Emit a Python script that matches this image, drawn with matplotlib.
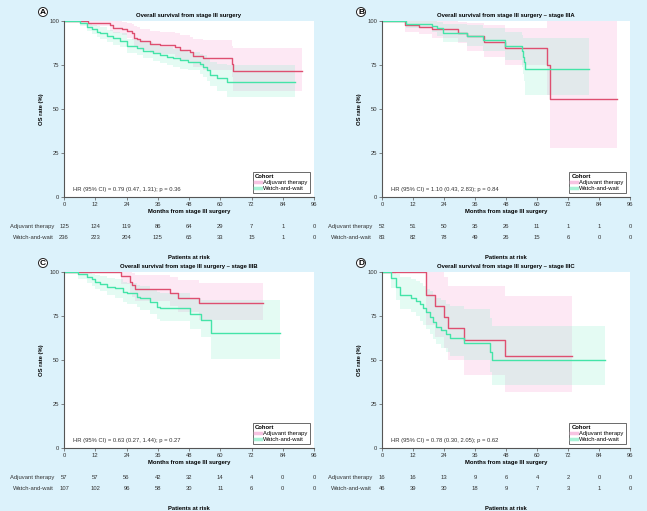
import matplotlib
matplotlib.use("Agg")
import matplotlib.pyplot as plt
import matplotlib.transforms as mtransforms
from matplotlib.lines import Line2D

plt.rcParams['font.family'] = ['Liberation Sans', 'DejaVu Sans']

# ---- risk table data ----
months = [0, 12, 24, 36, 48, 60, 72, 84, 96]
groups = ['Adjuvant therapy', 'Watch-and-wait']

a_risk_adj = [125, 124, 119, 86, 64, 29, 7, 1, 0]
a_risk_ww = [236, 223, 204, 125, 65, 33, 15, 1, 0]
b_risk_adj = [52, 51, 50, 35, 26, 11, 1, 1, 0]
b_risk_ww = [83, 82, 78, 49, 26, 15, 6, 0, 0]
c_risk_adj = [57, 57, 56, 42, 32, 14, 4, 0, 0]
c_risk_ww = [107, 102, 96, 58, 30, 11, 6, 0, 0]
d_risk_adj = [16, 16, 13, 9, 6, 4, 2, 0, 0]
d_risk_ww = [46, 39, 30, 18, 9, 7, 3, 1, 0]

# ---- survival curves (step times, OS %, CI lower, CI upper, last follow-up) ----
a_adj_t = [0, 9.3, 17.7, 18.9, 22.1, 24.1, 26, 26.9, 28.2, 29.2, 33, 36.9, 42.6, 44.5, 48.4, 49.7, 53.5, 64.4, 65]
a_adj_s = [100, 99, 97.7, 96.2, 95.5, 94.3, 93, 90.6, 89.7, 88.4, 86.9, 86.4, 85, 83.7, 82.2, 80.3, 78.8, 75.4, 71.5]
a_adj_lo = [100, 97, 94.5, 93, 92, 90.5, 89, 86, 85, 83.5, 82, 81, 79.5, 78, 76, 74, 72, 68, 60.5]
a_adj_hi = [100, 100, 100, 100, 99.5, 99, 98.5, 97, 96.5, 95.5, 94.5, 94, 93, 92, 91, 90, 89, 86, 84.5]
a_adj_end = 91.3

a_ww_t = [0, 6.1, 8.7, 10.6, 12.5, 13.8, 16.4, 18.9, 21.5, 24.1, 27.9, 30.5, 34.3, 36.9, 39.4, 42, 44.5, 47.7, 52.2, 53.5, 54.8, 56.1, 58.6, 62.5]
a_ww_s = [100, 98.7, 96.8, 95.3, 93.9, 93, 91.5, 90.2, 88.8, 85.8, 84.5, 83.1, 82, 80.7, 79.7, 78.8, 77.8, 76.9, 75.6, 74, 72.2, 69.3, 67.4, 65.2]
a_ww_lo = [100, 97, 94.5, 92.5, 91, 90, 88, 86.5, 85, 82, 80.5, 79, 77.5, 76, 75, 74, 73, 72, 70, 68, 66, 63, 60, 57]
a_ww_hi = [100, 100, 99, 98, 97, 96.5, 95, 94, 93, 90, 89, 88, 87, 85.5, 85, 84, 83, 82.5, 81.5, 80.5, 79, 76.5, 75.5, 75]
a_ww_end = 88.7

b_adj_t = [0, 8.9, 14.5, 19.2, 29.5, 32.8, 39.5, 47.5, 63.7, 65]
b_adj_s = [100, 97.5, 96.5, 95.5, 93.2, 91.5, 88.3, 84.8, 75, 55.5]
b_adj_lo = [100, 94, 92.5, 90.5, 87.5, 83, 79.5, 75, 58, 28]
b_adj_hi = [100, 100, 100, 100, 99.5, 99, 98, 96, 100, 100]
b_adj_end = 91.1

b_ww_t = [0, 9.4, 19.2, 21.2, 23.7, 32.8, 39.2, 47.6, 54.1, 54.7, 55.1, 55.4]
b_ww_s = [100, 98.5, 97.3, 95.8, 93, 91.5, 89.2, 85.7, 83, 79.5, 76.5, 72.5]
b_ww_lo = [100, 96, 93.5, 91.5, 88, 86, 83, 78, 74, 70, 66, 58]
b_ww_hi = [100, 100, 100, 99.5, 98.5, 97.5, 96, 93.5, 92, 90.5, 90.5, 90.5]
b_ww_end = 80.3

c_adj_t = [0, 22, 25.3, 26, 27.3, 40.7, 43.9, 52]
c_adj_s = [100, 97.5, 94.5, 92.6, 90.2, 87.9, 85.3, 82.2]
c_adj_lo = [100, 93, 88, 86, 83.5, 80.5, 77.5, 72.5]
c_adj_hi = [100, 100, 100, 99.5, 98.5, 97, 95.5, 94]
c_adj_end = 76.5

c_ww_t = [0, 5.5, 8.7, 10.6, 11.9, 13.8, 16.4, 19.6, 22.8, 24.1, 27.9, 29.2, 33, 35.6, 36.9, 48.2, 52.7, 56.5]
c_ww_s = [100, 98.7, 97.3, 96, 94.5, 93, 91.7, 90.7, 88.8, 87.9, 86, 85, 82.8, 80.3, 79.4, 75.9, 72.7, 65.2]
c_ww_lo = [100, 96, 94, 92, 90.5, 89, 87, 85.5, 83, 82, 80, 78.5, 76, 73.5, 72, 67.5, 63, 50.5]
c_ww_hi = [100, 100, 99.5, 99, 98.5, 97.5, 96.5, 96, 94.5, 94, 92.5, 92, 90.5, 88.5, 88, 85.5, 84, 84]
c_ww_end = 83

d_adj_t = [0, 17.2, 20.4, 24, 25.5, 31.7, 47.5]
d_adj_s = [100, 86.9, 80.9, 74.6, 68.4, 61.4, 52.5]
d_adj_lo = [100, 70, 63, 57, 50, 41.5, 32]
d_adj_hi = [100, 100, 100, 97, 92, 92, 86.5]
d_adj_end = 73.7

d_ww_t = [0, 3.6, 5.5, 6.8, 11.4, 13.3, 14.6, 15.9, 17.2, 18.5, 19.7, 21, 23, 24.9, 26.2, 31.7, 41.7, 42.7]
d_ww_s = [100, 96.8, 91.7, 87, 85, 83.5, 81.6, 79.4, 77.1, 74.6, 71.8, 68.9, 67, 64.6, 62.3, 59.5, 54.4, 50]
d_ww_lo = [100, 91, 84, 79, 77, 75, 72, 70, 67.5, 65, 62, 59, 57, 54.5, 52, 50, 43, 36]
d_ww_hi = [100, 100, 99, 97, 96, 95, 93.5, 92, 90.5, 89, 87, 85, 84, 82, 80.5, 79, 74, 69.5]
d_ww_end = 86.2

titles = ['Overall survival from stage III surgery',
          'Overall survival from stage III surgery \u2013 stage IIIA',
          'Overall survival from stage III surgery \u2013 stage IIIB',
          'Overall survival from stage III surgery \u2013 stage IIIC']
hr_texts = ['HR (95% CI) = 0.79 (0.47, 1.31); p = 0.36',
            'HR (95% CI) = 1.10 (0.43, 2.83); p = 0.84',
            'HR (95% CI) = 0.63 (0.27, 1.44); p = 0.27',
            'HR (95% CI) = 0.78 (0.30, 2.05); p = 0.62']
letters = ['A', 'B', 'C', 'D']

bg = '#dcf2fb'
red = '#de4f70'
green = '#44e4a8'
pink_fill = '#f9a6d6'
green_fill = '#86f0cb'

panels = [
    (a_adj_t, a_adj_s, a_adj_lo, a_adj_hi, a_adj_end, a_ww_t, a_ww_s, a_ww_lo, a_ww_hi, a_ww_end, a_risk_adj, a_risk_ww),
    (b_adj_t, b_adj_s, b_adj_lo, b_adj_hi, b_adj_end, b_ww_t, b_ww_s, b_ww_lo, b_ww_hi, b_ww_end, b_risk_adj, b_risk_ww),
    (c_adj_t, c_adj_s, c_adj_lo, c_adj_hi, c_adj_end, c_ww_t, c_ww_s, c_ww_lo, c_ww_hi, c_ww_end, c_risk_adj, c_risk_ww),
    (d_adj_t, d_adj_s, d_adj_lo, d_adj_hi, d_adj_end, d_ww_t, d_ww_s, d_ww_lo, d_ww_hi, d_ww_end, d_risk_adj, d_risk_ww),
]

fig = plt.figure(figsize=(6.47, 5.11), dpi=100, facecolor=bg)
W, H = 647.0, 511.0
# axes boxes in pixels: left, top, right, bottom
boxes = [(64, 21, 314, 197), (382, 21, 630, 197), (64, 272, 314, 448), (382, 272, 630, 448)]

fs = 4.2


def draw_curve(ax, t, s, lo, hi, end, line_col, fill_col, fill_alpha):
    tt = list(t) + [end]
    ss = list(s) + [s[-1]]
    ll = list(lo) + [lo[-1]]
    hh = list(hi) + [hi[-1]]
    ax.fill_between(tt, ll, hh, step='post', color=fill_col, alpha=fill_alpha, linewidth=0)
    ax.step(tt, ss, where='post', color=line_col, linewidth=1.0)


for i, p in enumerate(panels):
    l, t, r, b = boxes[i]
    ax = fig.add_axes([l / W, 1 - b / H, (r - l) / W, (b - t) / H])
    ax.set_facecolor('white')
    draw_curve(ax, p[0], p[1], p[2], p[3], p[4], red, pink_fill, 0.25)
    draw_curve(ax, p[5], p[6], p[7], p[8], p[9], green, green_fill, 0.22)

    ax.set_xlim(0, 96)
    ax.set_ylim(0, 100)
    ax.set_xticks(months)
    ax.set_yticks([0, 25, 50, 75, 100])
    for side in ['top', 'right']:
        ax.spines[side].set_visible(False)
    for side in ['left', 'bottom']:
        ax.spines[side].set_color('#555555')
        ax.spines[side].set_linewidth(0.8)
    ax.tick_params(labelsize=fs, length=2, width=0.5, color='#555555', labelcolor='#333333', pad=1.5)
    ax.set_title(titles[i], fontsize=fs, fontweight='bold', pad=3)
    ax.set_ylabel('OS rate (%)', fontsize=fs, fontweight='bold', labelpad=4)
    ax.set_xlabel('Months from stage III surgery', fontsize=fs, fontweight='bold', labelpad=1.5)

    ax.text(0.036, 0.045, hr_texts[i], transform=ax.transAxes, fontsize=fs, va='center', ha='left', color='#333333')

    handles = [Line2D([], [], color=red, linewidth=0.6), Line2D([], [], color=green, linewidth=0.6)]
    leg = ax.legend(handles, groups, title='Cohort', loc='lower right', bbox_to_anchor=(0.995, 0.005),
                    fontsize=fs, title_fontsize=fs, frameon=True, fancybox=False,
                    handlelength=1.0, handletextpad=0.4, borderpad=0.35, labelspacing=0.15,
                    alignment='left')
    leg.get_title().set_fontweight('bold')
    leg.get_frame().set_edgecolor('#444444')
    leg.get_frame().set_linewidth(0.7)
    for lh, fc in zip(leg.get_lines(), ['#f7c3e2', '#a8f2d6']):
        lh.set_color(fc)
        lh.set_linewidth(2.5)

    # risk table
    trans = mtransforms.blended_transform_factory(ax.transData, ax.transAxes)
    for row, (name, vals) in enumerate(zip(groups, [p[10], p[11]])):
        y = -0.165 - 0.066 * row
        ax.text(-0.04, y, name, transform=ax.transAxes, fontsize=fs, ha='right', va='center', color='#333333')
        for m, v in zip(months, vals):
            ax.text(m, y, str(v), transform=trans, fontsize=fs, ha='center', va='center', color='#333333')
    ax.text(0.5, -0.341, 'Patients at risk', transform=ax.transAxes, fontsize=fs, fontweight='bold',
            ha='center', va='center')

    # panel letter
    fig.text((l - 21) / W, 1 - (t - 9) / H, letters[i], fontsize=6, fontweight='bold', ha='center', va='center',
             bbox=dict(boxstyle='circle,pad=0.12', facecolor='white', edgecolor='#222222', linewidth=0.7))

fig.savefig('out.png', dpi=100, facecolor=bg)
